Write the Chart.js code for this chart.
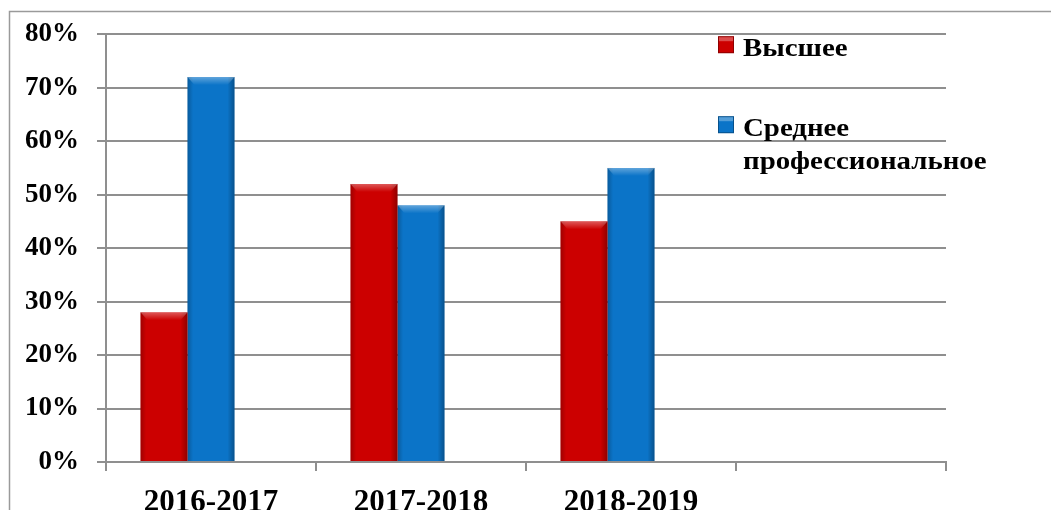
<!DOCTYPE html>
<html lang="ru">
<head>
<meta charset="utf-8">
<title>Образование</title>
<script src="https://cdn.jsdelivr.net/npm/chart.js@4.4.1/dist/chart.umd.min.js"></script>
<style>
  html, body { margin: 0; padding: 0; background: #fff; overflow: hidden; }
  #wrap { position: relative; width: 1051px; height: 510px; }
</style>
</head>
<body>
<div id="wrap"><canvas id="chart" width="1051" height="510"></canvas></div>
<script>
// ===============================
// DATA
// ===============================
const categories = ["2016-2017", "2017-2018", "2018-2019", ""];
const higherValues = [28, 52, 45, null];
const vocationalValues = [72, 48, 55, null];
const seriesLabels = [["Высшее"], ["Среднее", "профессиональное"]];
const seriesColors = ["#cc0000", "#0b74c8"];
const yTickValues = [0, 10, 20, 30, 40, 50, 60, 70, 80];

const SERIF = '"Liberation Serif", "Times New Roman", serif';
const GRID = "#8f8f8f";

// ===============================
// PLUGINS
// ===============================
const frame = {
  id: "frame",
  beforeDraw(chart) {
    const ctx = chart.ctx;
    ctx.save();
    ctx.fillStyle = "#fff";
    ctx.fillRect(0, 0, chart.width, chart.height);
    ctx.strokeStyle = "#9a9a9a";
    ctx.lineWidth = 1.5;
    ctx.strokeRect(9.5, 11.5, chart.width + 20, chart.height + 20);
    ctx.restore();
  }
};

// soft 3d look on each bar, drawn over the library's bar elements
const barShade = {
  id: "barShade",
  afterDatasetsDraw(chart) {
    const ctx = chart.ctx;
    chart.data.datasets.forEach((ds, di) => {
      const meta = chart.getDatasetMeta(di);
      meta.data.forEach((bar, i) => {
        if (ds.data[i] == null) return;
        const p = bar.getProps(["x", "y", "base", "width"], true);
        const left = p.x - p.width / 2;
        const g = ctx.createLinearGradient(left, 0, left + p.width, 0);
        g.addColorStop(0, "rgba(0,0,0,0.22)");
        g.addColorStop(0.12, "rgba(0,0,0,0)");
        g.addColorStop(0.85, "rgba(0,0,0,0)");
        g.addColorStop(1, "rgba(0,0,0,0.3)");
        ctx.save();
        ctx.fillStyle = g;
        ctx.fillRect(left, p.y, p.width, p.base - p.y);
        // top bevel
        const tg = ctx.createLinearGradient(0, p.y, 0, p.y + 8);
        tg.addColorStop(0, "rgba(255,255,255,0.35)");
        tg.addColorStop(1, "rgba(255,255,255,0)");
        ctx.fillStyle = tg;
        ctx.beginPath();
        ctx.moveTo(left, p.y);
        ctx.lineTo(left + p.width, p.y);
        ctx.lineTo(left + p.width - 7, p.y + 8);
        ctx.lineTo(left + 7, p.y + 8);
        ctx.closePath();
        ctx.fill();
        ctx.restore();
      });
    });
  }
};

const boxLegend = {
  id: "boxLegend",
  afterDraw(chart) {
    const { ctx, chartArea } = chart;
    const x0 = chartArea.right - 228;
    let base = chartArea.top + 22;
    ctx.save();
    ctx.font = "bold 26px " + SERIF;
    ctx.textBaseline = "alphabetic";
    ctx.textAlign = "left";
    seriesLabels.forEach((lines, i) => {
      ctx.fillStyle = seriesColors[i];
      ctx.fillRect(x0, base - 20, 16, 17);
      ctx.strokeStyle = "rgba(0,0,0,0.3)";
      ctx.lineWidth = 1;
      ctx.strokeRect(x0 + 0.5, base - 19.5, 15, 16);
      ctx.fillStyle = "rgba(255,255,255,0.3)";
      ctx.fillRect(x0 + 1, base - 19, 14, 4);
      ctx.fillStyle = "#000";
      lines.forEach((t, k) => {
        ctx.save();
        ctx.translate(x0 + 25, base + k * 33);
        ctx.scale(1.11, 1);
        ctx.fillText(t, 0, 0);
        ctx.restore();
      });
      base += 80;
    });
    ctx.restore();
  }
};

// ===============================
// CHART
// ===============================
const chart = new Chart(document.getElementById("chart"), {
  type: "bar",
  data: {
    labels: categories,
    datasets: [
      { label: seriesLabels[0].join(" "), data: higherValues, backgroundColor: seriesColors[0] },
      { label: seriesLabels[1].join(" "), data: vocationalValues, backgroundColor: seriesColors[1] },
      // empty third slot: Excel left room for it, which shifts the pairs left
      { label: "", data: categories.map(() => null), backgroundColor: "rgba(0,0,0,0)" }
    ]
  },
  options: {
    responsive: false,
    devicePixelRatio: 1,
    animation: false,
    events: [],
    categoryPercentage: 0.6714,
    barPercentage: 1,
    layout: { padding: { left: 0, right: 105, top: 32, bottom: 0 } },
    plugins: {
      legend: { display: false },
      tooltip: { enabled: false }
    },
    scales: {
      x: {
        grid: {
          offset: true,
          drawOnChartArea: false,
          drawTicks: true,
          tickLength: 9,
          color: GRID,
          lineWidth: 2
        },
        border: { display: true, color: GRID, width: 2 },
        ticks: {
          color: "#000",
          padding: 13,
          maxRotation: 0,
          autoSkip: false,
          font: { family: SERIF, size: 31, weight: "bold" }
        },
        afterFit: s => { s.height = 48; }
      },
      y: {
        min: 0,
        max: 80,
        afterBuildTicks: s => { s.ticks = yTickValues.map(v => ({ value: v })); },
        grid: {
          drawTicks: true,
          tickLength: 9,
          color: GRID,
          lineWidth: 2
        },
        border: { display: true, color: GRID, width: 2 },
        ticks: {
          color: "#000",
          padding: 18,
          font: { family: SERIF, size: 27, weight: "bold" },
          callback: v => v + "%"
        },
        afterFit: s => { s.width = 106; }
      }
    }
  },
  plugins: [frame, barShade, boxLegend]
});
</script>
</body>
</html>
